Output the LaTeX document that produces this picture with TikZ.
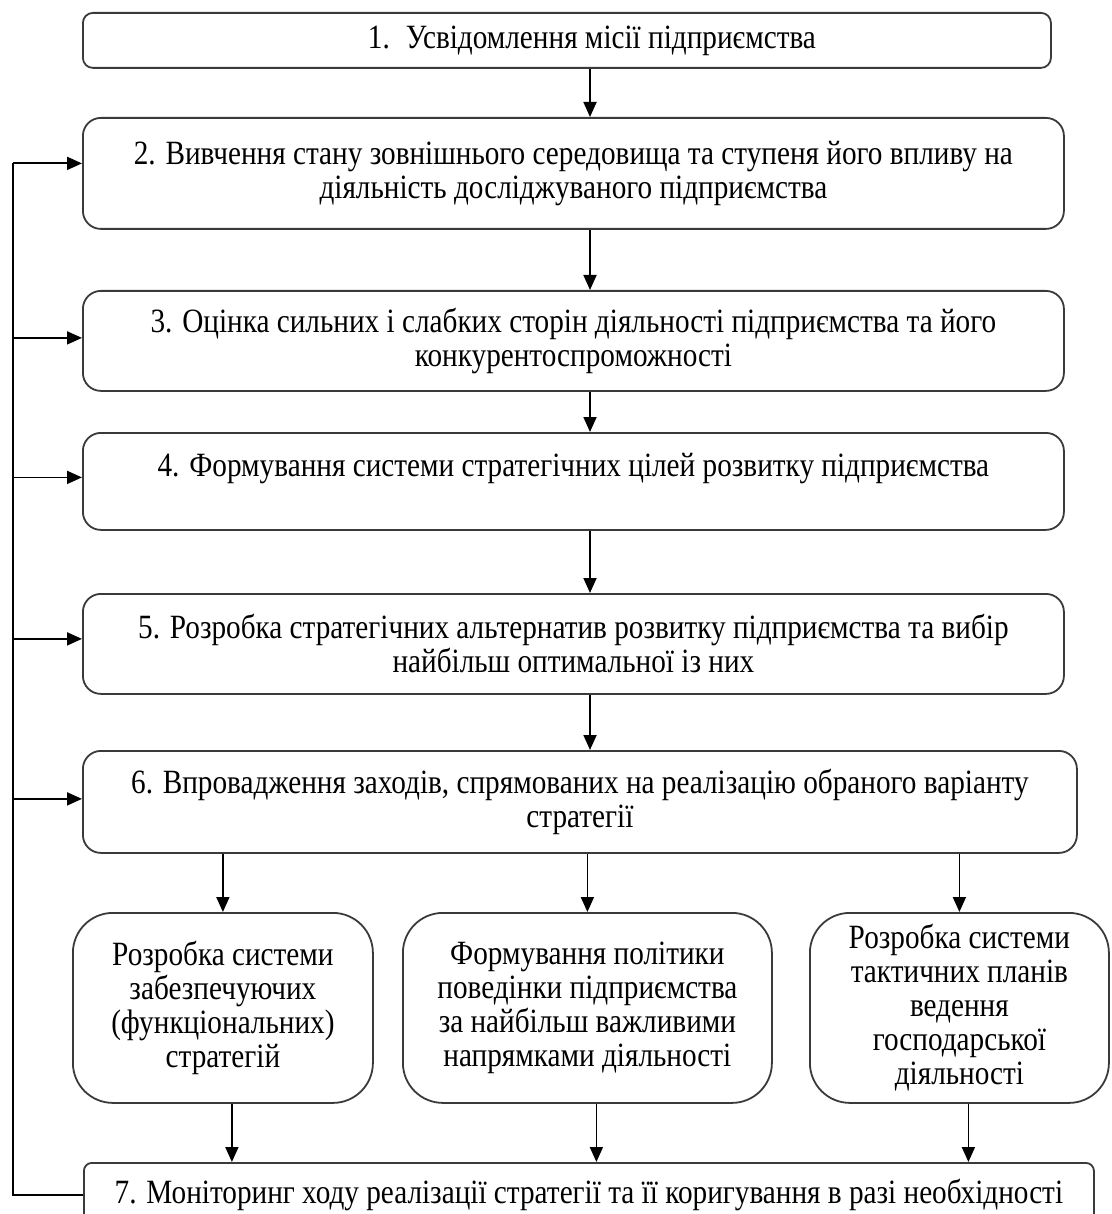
\documentclass[tikz,border=0pt]{standalone}
\usepackage{fontspec}
\setmainfont{Liberation Serif}[FakeStretch=0.86]
\usetikzlibrary{arrows.meta,positioning,calc}
\definecolor{edge}{HTML}{3A3A3A}

\begin{document}
\begin{tikzpicture}[x=1pt, y=-1pt, every node/.style={font=\fontsize{34}{34}\selectfont}, box/.style={draw=edge, line width=1.8pt, rounded corners=18pt, align=center, anchor=north west, inner sep=0pt, minimum width=981pt}, sub/.style={box, rounded corners=40pt, minimum height=190pt}, arr/.style={-{Triangle[length=15pt,width=13pt]}, line width=1.8pt}, line/.style={line width=1.8pt}]
\useasboundingbox (0,0) rectangle (1111,1214);
\clip (0,0) rectangle (1111,1214);
\node[box, minimum width=968pt, minimum height=55pt, rounded corners=10pt] (b1) at (82,12) {\hspace*{50pt}1.\hspace{16pt}Усвідомлення місії підприємства};
\node[box, minimum height=111pt] (b2) at (82,117) {2. Вивчення стану зовнішнього середовища та ступеня його впливу на\\діяльність досліджуваного підприємства};
\node[box, minimum height=100pt] (b3) at (82,290) {3. Оцінка сильних і слабких сторін діяльності підприємства та його\\конкурентоспроможності};
\node[box, minimum height=97pt] (b4) at (82,432) {4. Формування системи стратегічних цілей розвитку підприємства\\\mbox{}};
\node[box, minimum height=100pt] (b5) at (82,593) {5. Розробка стратегічних альтернатив розвитку підприємства та вибір\\найбільш оптимальної із них};
\node[box, minimum width=994pt, minimum height=102pt] (b6) at (82,750) {6. Впровадження заходів, спрямованих на реалізацію обраного варіанту\\стратегії};
\node[sub, minimum width=300pt] (bl) at (72,912) {Розробка системи\\забезпечуючих\\(функціональних)\\стратегій};
\node[sub, minimum width=369pt] (bm) at (402,912) {Формування політики\\поведінки підприємства\\за найбільш важливими\\напрямками діяльності};
\node[sub, minimum width=299pt] (br) at (809,912) {Розробка системи\\тактичних планів\\ведення\\господарської\\діяльності};
\node[box, minimum width=1010pt, minimum height=64pt, rounded corners=8pt] (b7) at (83,1162) {7. Моніторинг ходу реалізації стратегії та її коригування в разі необхідності};

\coordinate (col) at (590,0);
\coordinate (fb) at (13,0);
\foreach \a/\b in {b1/b2,b2/b3,b3/b4,b4/b5,b5/b6}
  \draw[arr] (\a.south -| col) -- (\b.north -| col);
\foreach \s in {bl,bm,br} {
  \draw[arr] (b6.south -| \s.north) -- (\s.north);
  \draw[arr] ([xshift=9pt]\s.south) -- ([xshift=9pt]\s.south |- b7.north);
}
% feedback from monitoring
\draw[line] (b7.west) -| ([yshift=10pt]b2.west -| fb);
\foreach \b/\d in {b2/10,b3/3,b4/4,b5/5,b6/3}
  \draw[arr] ([yshift=\d pt]\b.west -| fb) -- ([yshift=\d pt]\b.west);
\end{tikzpicture}
\end{document}
